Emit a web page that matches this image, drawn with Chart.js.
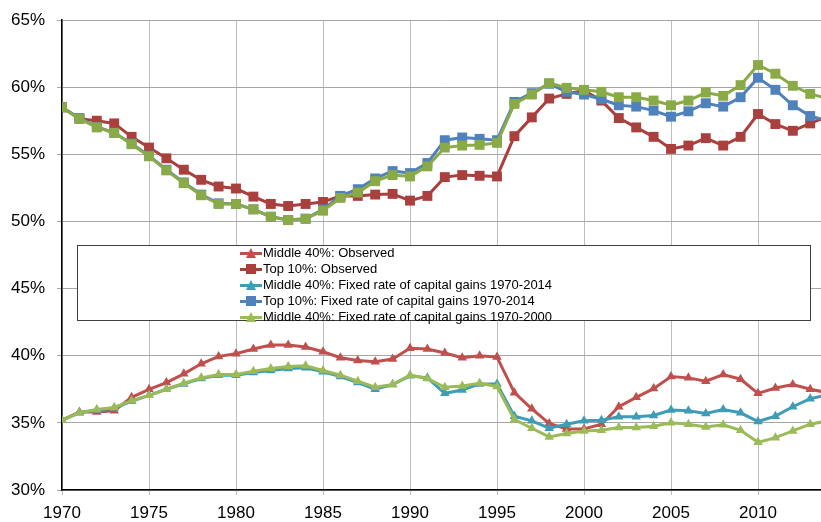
<!DOCTYPE html>
<html>
<head>
<meta charset="utf-8">
<script src="https://cdn.jsdelivr.net/npm/chart.js@4.4.1/dist/chart.umd.min.js"></script>
<style>
  body { margin: 0; background: #fff; font-family: "Liberation Sans", Arial, sans-serif; }
  #wrap { position: relative; width: 821px; height: 522px; }
  #legend {
    position: absolute; left: 77px; top: 245px; width: 732px; height: 74px;
    background: #fff; border: 1px solid #404040;
  }
  #legend ul { list-style: none; margin: 0; padding: 0; position: absolute; left: 162px; top: -1px; }
  #legend li { height: 16px; line-height: 16px; font-size: 13px; color: #000; white-space: nowrap; display: flex; align-items: center; }
  .sample { position: relative; width: 22px; height: 16px; margin-right: 1px; }
  .sample .ln { position: absolute; left: 0; right: 0; top: 7px; height: 3px; }
  .sample .mk { position: absolute; left: 6px; top: 3px; width: 10px; height: 10px; }
  .sample .tri { clip-path: polygon(50% 0, 100% 100%, 0 100%); }
</style>
</head>
<body>
<div id="wrap">
  <canvas id="chart" width="821" height="522"></canvas>
  <div id="legend"><ul id="legendList"></ul></div>
</div>
<script>
const years = [];
for (let y = 1970; y <= 2014; y++) years.push(y);

const yTicks = [30, 35, 40, 45, 50, 55, 60, 65];
const xTicks = [1970, 1975, 1980, 1985, 1990, 1995, 2000, 2005, 2010];

// Middle 40%: Observed
const mid40Observed = [
  35.2, 35.8, 35.8, 35.9, 36.9, 37.5, 38.0, 38.65, 39.4, 39.95,
  40.15, 40.5, 40.8, 40.8, 40.65, 40.3, 39.85, 39.65, 39.55, 39.75,
  40.55, 40.5, 40.2, 39.85, 40.0, 39.9, 37.25, 36.05, 34.95, 34.55,
  34.55, 34.9, 36.2, 36.9, 37.55, 38.45, 38.35, 38.1, 38.6, 38.25,
  37.2, 37.6, 37.85, 37.5, 37.25
];
// Top 10%: Observed
const top10Observed = [
  58.5, 57.65, 57.5, 57.3, 56.3, 55.5, 54.7, 53.85, 53.1, 52.6,
  52.45, 51.85, 51.3, 51.15, 51.3, 51.45, 51.9, 51.9, 52.0, 52.05,
  51.55, 51.9, 53.3, 53.45, 53.4, 53.35, 56.35, 57.75, 59.15, 59.5,
  59.75, 59.0, 57.7, 57.0, 56.3, 55.4, 55.65, 56.2, 55.65, 56.3,
  58.0, 57.25, 56.75, 57.3, 57.8
];
// Middle 40%: Fixed rate of capital gains 1970-2014
const mid40Fixed2014 = [
  35.2, 35.75, 35.95, 36.1, 36.6, 37.05, 37.5, 37.9, 38.3, 38.55,
  38.55, 38.75, 38.9, 39.05, 39.1, 38.8, 38.45, 38.0, 37.5, 37.85,
  38.5, 38.35, 37.2, 37.45, 37.9, 37.9, 35.5, 35.15, 34.6, 34.9,
  35.15, 35.2, 35.45, 35.45, 35.55, 35.95, 35.9, 35.7, 36.0, 35.75,
  35.1, 35.5, 36.2, 36.8, 37.1
];
// Top 10%: Fixed rate of capital gains 1970-2014
const top10Fixed2014 = [
  58.5, 57.7, 57.05, 56.6, 55.8, 54.9, 53.85, 52.9, 52.0, 51.35,
  51.3, 50.9, 50.35, 50.1, 50.2, 50.9, 51.9, 52.4, 53.2, 53.75,
  53.6, 54.35, 56.05, 56.25, 56.15, 56.05, 58.9, 59.55, 60.25, 59.65,
  59.45, 59.1, 58.65, 58.55, 58.25, 57.8, 58.2, 58.8, 58.55, 59.25,
  60.7, 59.8, 58.65, 57.85, 57.5
];
// Middle 40%: Fixed rate of capital gains 1970-2000
const mid40Fixed2000 = [
  35.2, 35.75, 36.0, 36.15, 36.65, 37.05, 37.5, 37.95, 38.35, 38.6,
  38.6, 38.85, 39.05, 39.2, 39.25, 38.9, 38.55, 38.1, 37.65, 37.85,
  38.55, 38.3, 37.65, 37.75, 37.95, 37.7, 35.25, 34.6, 33.95, 34.2,
  34.4, 34.45, 34.65, 34.65, 34.75, 35.0, 34.9, 34.7, 34.85, 34.45,
  33.55, 33.9, 34.4, 34.9, 35.15
];
// Top 10%: Fixed rate of capital gains 1970-2000 (not listed in legend)
const top10Fixed2000 = [
  58.5, 57.65, 57.0, 56.6, 55.75, 54.85, 53.8, 52.85, 51.95, 51.3,
  51.3, 50.9, 50.35, 50.1, 50.2, 50.8, 51.75, 52.15, 53.0, 53.45,
  53.35, 54.1, 55.5, 55.65, 55.7, 55.85, 58.75, 59.45, 60.3, 59.95,
  59.8, 59.65, 59.25, 59.25, 59.0, 58.65, 59.0, 59.6, 59.35, 60.15,
  61.65, 61.0, 60.1, 59.5, 59.15
];

function pts(values) {
  return values.map((v, i) => ({ x: years[i], y: v }));
}

function series(label, values, color, shape, order, inLegend) {
  return {
    label: label,
    data: pts(values),
    borderColor: color,
    backgroundColor: color,
    borderWidth: 3,
    pointStyle: shape,
    pointRadius: shape === 'rect' ? 7 : 5.5,
    pointBorderWidth: 0,
    tension: 0,
    order: order,
    inLegend: inLegend
  };
}

const datasets = [
  series('Middle 40%: Observed', mid40Observed, '#C0504D', 'triangle', 5, true),
  series('Top 10%: Observed', top10Observed, '#A9403D', 'rect', 4, true),
  series('Middle 40%: Fixed rate of capital gains 1970-2014', mid40Fixed2014, '#3E9CB6', 'triangle', 3, true),
  series('Top 10%: Fixed rate of capital gains 1970-2014', top10Fixed2014, '#4F81BD', 'rect', 2, true),
  series('Middle 40%: Fixed rate of capital gains 1970-2000', mid40Fixed2000, '#9BBB59', 'triangle', 1, true),
  series('Top 10%: Fixed rate of capital gains 1970-2000', top10Fixed2000, '#8AAA48', 'rect', 0, false)
];

const ctx = document.getElementById('chart').getContext('2d');
const chart = new Chart(ctx, {
  type: 'line',
  data: { datasets: datasets },
  options: {
    responsive: false,
    animation: false,
    layout: { autoPadding: false, padding: { top: 20, right: 0, left: 0, bottom: 0 } },
    scales: {
      x: {
        type: 'linear',
        min: 1970,
        max: 1970 + 759 / 17.4,
        afterFit: s => { s.height = 32; s.paddingLeft = 0; s.paddingRight = 0; },
        afterBuildTicks: s => { s.ticks = xTicks.map(v => ({ value: v })); },
        grid: { color: '#bdbdbd', lineWidth: 1, tickLength: 5, tickColor: '#bdbdbd' },
        border: { color: '#000', width: 1.5 },
        ticks: {
          includeBounds: false,
          padding: 8,
          maxRotation: 0,
          color: '#000',
          font: { family: '"Liberation Sans", Arial, sans-serif', size: 17 },
          callback: v => String(v)
        }
      },
      y: {
        min: 30,
        max: 65,
        afterFit: s => { s.width = 62; s.paddingTop = 0; s.paddingBottom = 0; },
        afterBuildTicks: s => { s.ticks = yTicks.map(v => ({ value: v })); },
        grid: { color: '#a6a6a6', lineWidth: 1, tickLength: 5, tickColor: '#a6a6a6' },
        border: { color: '#000', width: 1.5 },
        ticks: {
          padding: 12,
          color: '#000',
          font: { family: '"Liberation Sans", Arial, sans-serif', size: 17 },
          callback: v => v + '%'
        }
      }
    },
    plugins: {
      legend: { display: false },
      tooltip: { enabled: false }
    }
  }
});

// HTML legend built from the chart's datasets
const list = document.getElementById('legendList');
chart.data.datasets.filter(d => d.inLegend).forEach(d => {
  const li = document.createElement('li');
  const sample = document.createElement('span');
  sample.className = 'sample';
  const ln = document.createElement('span');
  ln.className = 'ln';
  ln.style.background = d.borderColor;
  const mk = document.createElement('span');
  mk.className = 'mk' + (d.pointStyle === 'triangle' ? ' tri' : '');
  mk.style.background = d.backgroundColor;
  sample.appendChild(ln);
  sample.appendChild(mk);
  li.appendChild(sample);
  li.appendChild(document.createTextNode(d.label));
  list.appendChild(li);
});
</script>
</body>
</html>
